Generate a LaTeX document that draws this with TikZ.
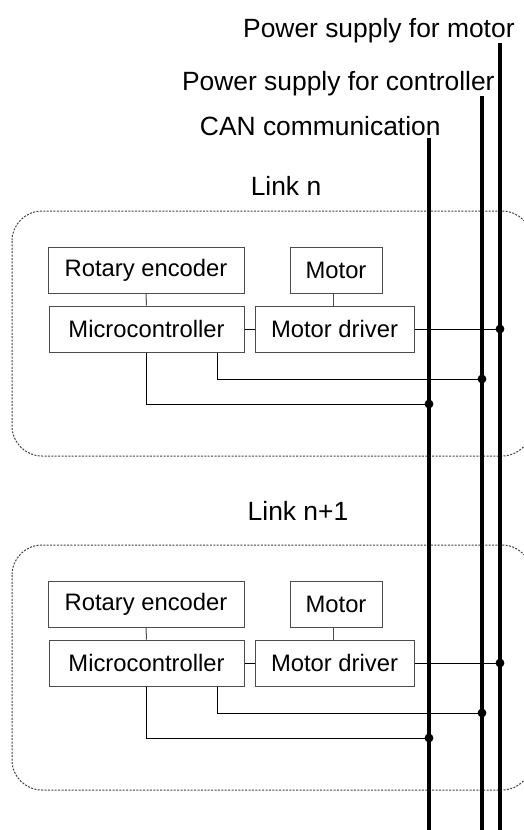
\documentclass[tikz,border=0pt]{standalone}
\usepackage{fontspec}
\setmainfont{Liberation Sans}
\usetikzlibrary{positioning,calc}

\begin{document}
\begin{tikzpicture}[
x=0.5pt, y=-0.5pt,
blk/.style={draw=black!70, line width=0.5pt, minimum height=23pt, inner sep=0pt, font=\fontsize{11.9}{14}\selectfont},
wire/.style={line width=0.5pt},
bus/.style={line width=2pt},
linkbox/.style={draw=black!75, line width=0.5pt, dash pattern=on 1pt off 0.7pt, rounded corners=15pt},
lbl/.style={font=\fontsize{13.2}{16}\selectfont, inner sep=0pt},
]
\useasboundingbox (0,0) rectangle (524,830);
\clip (0,0) rectangle (524,830);

% bus labels
\node[lbl, anchor=base east] (motlbl) at (515,37) {Power supply for motor};
\node[lbl, anchor=base east] (ctllbl) at (495,90) {Power supply for controller};
\node[lbl, anchor=base east] (canlbl) at (441,135) {CAN communication};

% the two links
\foreach \i/\dy/\lab/\lx/\ly in {1/0/{Link n}/286/195, 2/334/{Link n+1}/298/520}{
	\node[lbl, anchor=base] (lab\i) at (\lx,\ly) {\lab};
	\draw[linkbox] (12,{211+\dy}) rectangle (532,{456+\dy});
	\node[blk, minimum width=98pt] (enc\i) at (146,{270+\dy}) {Rotary encoder};
	\node[blk, minimum width=46pt] (mot\i) at (336,{270+\dy}) {Motor};
	\node[blk, minimum width=97.5pt] (mcu\i) at (146.5,{329+\dy}) {Microcontroller};
	\node[blk, minimum width=79.5pt] (drv\i) at (334.5,{329+\dy}) {Motor driver};
	\coordinate (motj\i) at (500,{329+\dy});
	\coordinate (ctlj\i) at (482,{379+\dy});
	\coordinate (canj\i) at (429,{404+\dy});
	\draw[wire, black!70] (enc\i) -- (mcu\i);
	\draw[wire, black!70] (mot\i.south -| 333,0) -- (drv\i.north -| 333,0);
	\draw[wire] (mcu\i) -- (drv\i);
	\draw[wire] (drv\i) -- (motj\i);
	\draw[wire] ([xshift=35.25pt]mcu\i.south) |- (ctlj\i);
	\draw[wire] (mcu\i.south) |- (canj\i);
}

% buses
\coordinate (mottop) at (500,43);
\coordinate (motbot) at (500,830);
\coordinate (ctltop) at (482,96);
\coordinate (ctlbot) at (482,830);
\coordinate (cantop) at (429,138);
\coordinate (canbot) at (429,830);
\draw[bus] (mottop) -- (motbot);
\draw[bus] (ctltop) -- (ctlbot);
\draw[bus] (cantop) -- (canbot);

% junctions
\foreach \i in {1,2}{
	\fill (motj\i) circle (2.2pt);
	\fill (ctlj\i) circle (2.2pt);
	\fill (canj\i) circle (2.2pt);
}
\end{tikzpicture}
\end{document}
